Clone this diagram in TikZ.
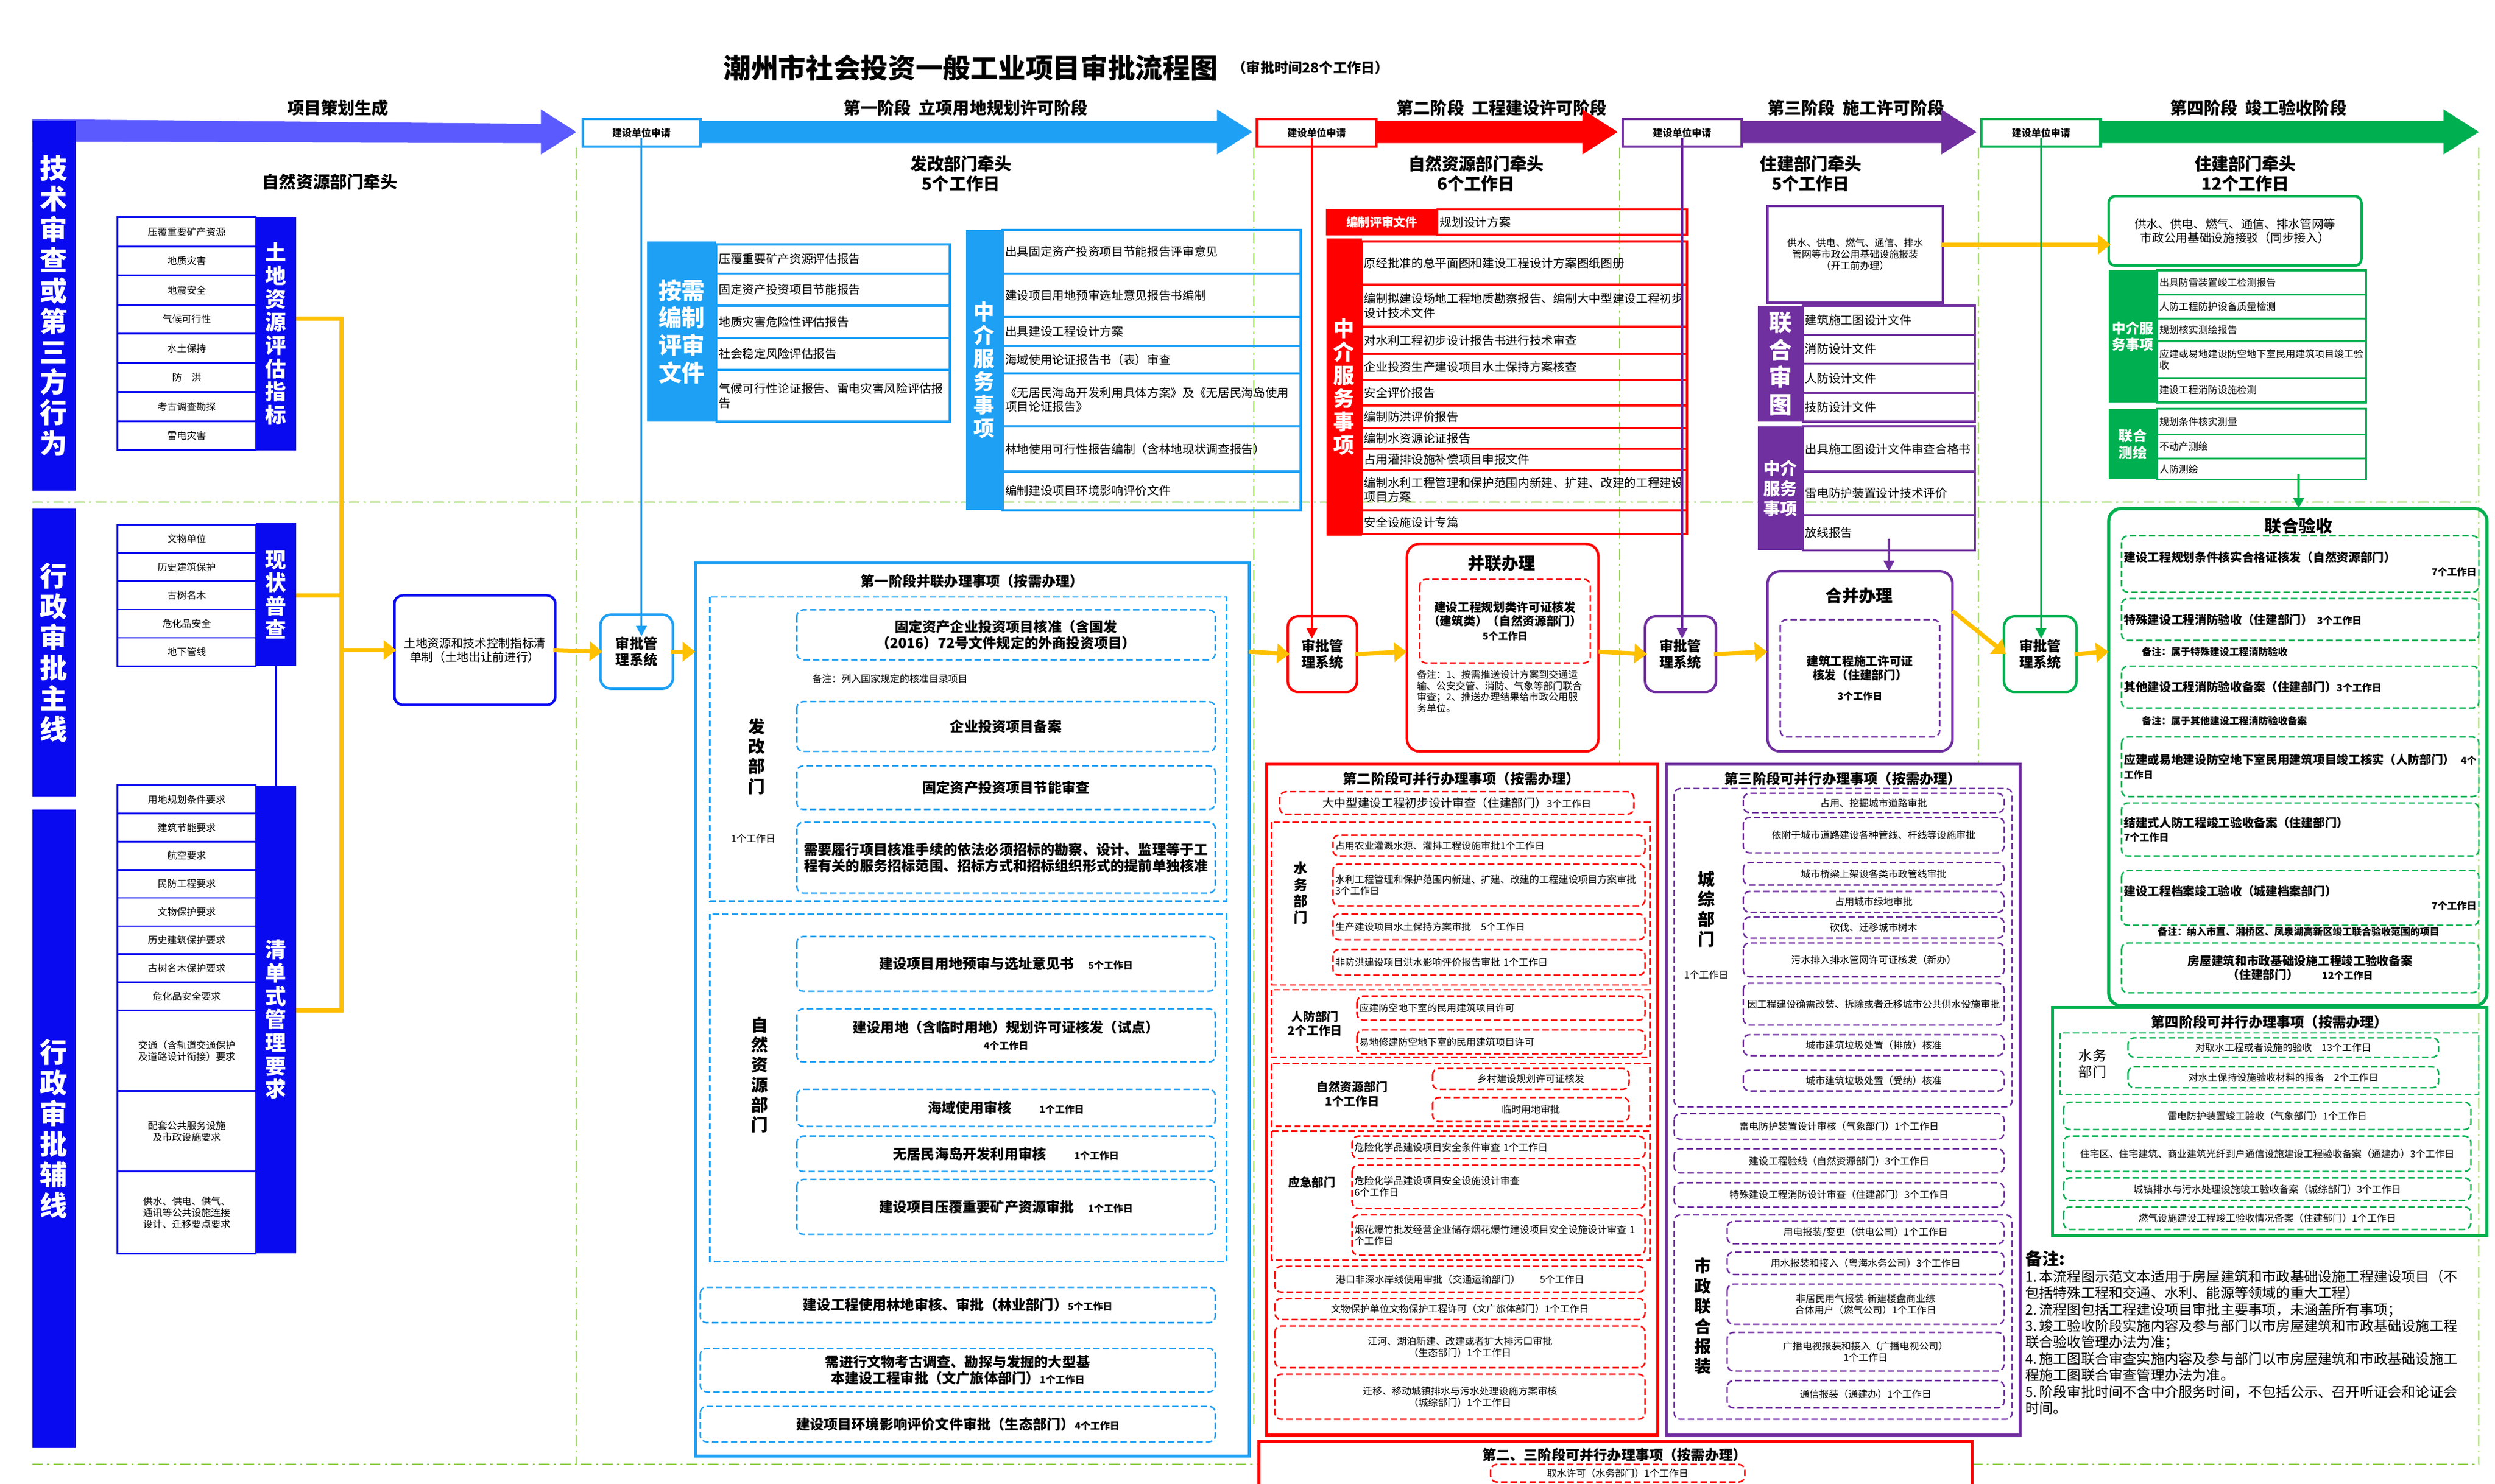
\documentclass[tikz,border=0pt]{standalone}
\usepackage{fontspec}
\setmainfont{Noto Sans CJK SC}
\XeTeXlinebreaklocale "zh"
\XeTeXlinebreakskip=0pt
\usetikzlibrary{arrows.meta}
\definecolor{cb}{HTML}{0A0AF0}
\definecolor{ca}{HTML}{5A5AFF}
\definecolor{cl}{HTML}{1EA0F5}
\definecolor{cr}{HTML}{FF0000}
\definecolor{cp}{HTML}{7030A0}
\definecolor{cg}{HTML}{00B050}
\definecolor{co}{HTML}{FFC000}
\definecolor{cd}{HTML}{92D050}
\newcommand\fa{\fontsize{4.6}{5.4}\selectfont}
\newcommand\fb{\fontsize{5.6}{6.6}\selectfont}
\newcommand\fc{\fontsize{6.6}{7.8}\selectfont}
\newcommand\fd{\fontsize{8}{9.5}\selectfont}
\newcommand\fe{\fontsize{10}{11}\selectfont\bfseries}
\newcommand\ff{\fontsize{13}{14.5}\selectfont\bfseries}
\def\bx#1#2#3#4#5#6#7#8{\pgfmathsetmacro\bw{abs(#6-#4)*0.0268-0.08}\draw[#1] ({#4},{#5}) rectangle ({#6},{#7});\node[#2,text width=\bw cm] (#3) at ({(#4+#6)/2},{(#5+#7)/2}) {#8};}
\def\harrow#1#2#3#4{\fill[#1] ({#2},{#4-7}) -- ({#3-22},{#4-7}) -- ({#3-22},{#4-14}) -- ({#3},{#4}) -- ({#3-22},{#4+14}) -- ({#3-22},{#4+7}) -- ({#2},{#4+7}) -- cycle;}
\tikzset{
  txt/.style={align=center,inner sep=0pt,font=\fb},
  ltxt/.style={align=left,inner sep=0pt,font=\fb},
  vt/.style={align=center,inner sep=0pt,text=white,font=\fe},
  vk/.style={align=center,inner sep=0pt,font=\fd\bfseries},
  dsh/.style={dash pattern=on 3pt off 1.5pt,line width=0.7pt},
  gdl/.style={draw=cd,dash pattern=on 5pt off 2pt on 1pt off 2pt,line width=0.5pt},
  oarr/.style={draw=co,line width=2pt,-{Triangle[length=6pt,width=9pt]}},
  varr/.style={line width=1pt,-{Triangle[length=5pt,width=5pt]}},
}
\begin{document}
\begin{tikzpicture}[x=0.0268cm,y=-0.0268cm]
		%%%%% START %%%%%
		\useasboundingbox (0,0) rectangle (1550,922);
		
		\node[font=\fontsize{13}{14}\selectfont\bfseries] (ttl) at (603,42) {潮州市社会投资一般工业项目审批流程图};
		\node[font=\fc\bfseries,anchor=west] (ttl2) at (ttl.east) {（审批时间28个工作日）};
		
		% stage headings
		\node[font=\fd\bfseries] (h0) at (210,67) {项目策划生成};
		\node[font=\fd\bfseries] (h1) at (600,67) {第一阶段\ \ 立项用地规划许可阶段};
		\node[font=\fd\bfseries] (h2) at (933,67) {第二阶段\ \ 工程建设许可阶段};
		\node[font=\fd\bfseries] (h3) at (1153,67) {第三阶段\ \ 施工许可阶段};
		\node[font=\fd\bfseries] (h4) at (1403,67) {第四阶段\ \ 竣工验收阶段};
		
		% green dash-dot frame lines
		\draw[gdl] (358,92) -- (358,910);
		\draw[gdl] (779,92) -- (779,885);
		\draw[gdl] (1006,92) -- (1006,475);
		\draw[gdl] (1229,92) -- (1229,475);
		\draw[gdl] (1540,92) -- (1540,910);
		\draw[gdl] (20,312) -- (1540,312);
		\draw[gdl] (20,910) -- (782,910);
		\draw[gdl] (1225,910) -- (1540,910);
		
		% stage arrows
		\fill[ca] (20,74) -- (336,77) -- (336,68) -- (358,82) -- (336,96) -- (336,89) -- (20,88) -- cycle;
		\harrow{cl}{435}{778}{82}
		\harrow{cr}{855}{1005}{82}
		\harrow{cp}{1082}{1228}{82}
		\harrow{cg}{1305}{1540}{82}
		\bx{draw=cl,line width=1.2pt,fill=white}{txt,font=\fa\bfseries}{ap1}{362}{74}{435}{91}{建设单位申请}
		\bx{draw=cr,line width=1.2pt,fill=white}{txt,font=\fa\bfseries}{ap2}{781}{74}{855}{91}{建设单位申请}
		\bx{draw=cp,line width=1.2pt,fill=white}{txt,font=\fa\bfseries}{ap3}{1008}{74}{1082}{91}{建设单位申请}
		\bx{draw=cg,line width=1.2pt,fill=white}{txt,font=\fa\bfseries}{ap4}{1231}{74}{1305}{91}{建设单位申请}
		
		% left bands
		\bx{fill=cb,draw=none}{vt,font=\ff}{bd1}{20}{75}{47}{305}{技术审查或第三方行为}
		\bx{fill=cb,draw=none}{vt,font=\ff}{bd2}{20}{316}{47}{495}{行政审批主线}
		\bx{fill=cb,draw=none}{vt,font=\ff}{bd3}{20}{503}{47}{900}{行政审批辅线}
		\node[font=\fd\bfseries] (lead0) at (205,113) {自然资源部门牵头};
		
		\foreach \t [count=\i] in {压覆重要矿产资源,地质灾害,地震安全,气候可行性,水土保持,防\quad 洪,考古调查勘探,雷电灾害}
		  {\bx{draw=cb,line width=0.8pt}{txt,font=\fa}{ga\i}{73}{135+18.1*(\i-1)}{159}{135+18.1*\i}{\t}}
		\bx{fill=cb,draw=none}{vt}{gab}{159}{135}{184}{280}{土地资源评估指标}
		\foreach \t [count=\i] in {文物单位,历史建筑保护,古树名木,危化品安全,地下管线}
		  {\bx{draw=cb,line width=0.8pt}{txt,font=\fa}{gb\i}{73}{326+17.6*(\i-1)}{159}{326+17.6*\i}{\t}}
		\bx{fill=cb,draw=none}{vt}{gbb}{159}{325}{184}{414}{现状普查}
		\foreach \t [count=\i] in {用地规划条件要求,建筑节能要求,航空要求,民防工程要求,文物保护要求,历史建筑保护要求,古树名木保护要求,危化品安全要求}
		  {\bx{draw=cb,line width=0.8pt}{txt,font=\fa}{gc\i}{73}{488+17.5*(\i-1)}{159}{488+17.5*\i}{\t}}
		\bx{draw=cb,line width=0.8pt}{txt,font=\fa}{gc9}{73}{628}{159}{678}{交通（含轨道交通保护及道路设计衔接）要求}
		\bx{draw=cb,line width=0.8pt}{txt,font=\fa}{gc10}{73}{678}{159}{728}{配套公共服务设施及市政设施要求}
		\bx{draw=cb,line width=0.8pt}{txt,font=\fa}{gc11}{73}{728}{159}{779}{供水、供电、供气、通讯等公共设施连接设计、迁移要点要求}
		\bx{fill=cb,draw=none}{vt}{gcb}{159}{488}{184}{779}{清单式管理要求}
		\draw[cb,varr] (gbb.south) -- (gcb.north);
		
		% orange collector
		\coordinate (oj1) at (212,198);
		\coordinate (oj2) at (212,370);
		\coordinate (oj3) at (212,628);
		\draw[co,line width=2pt] (184,198) -- (oj1) -- (oj3) -- (184,628);
		\draw[co,line width=2pt] (184,370) -- (oj2);
		\bx{draw=cb,line width=1.2pt,rounded corners=4pt}{txt,font=\fb}{tdzb}{245}{370}{345}{438}{土地资源和技术控制指标清单制（土地出让前进行）}
		\draw[oarr] (212,404) -- (tdzb.west);
		\bx{draw=cl,line width=1.2pt,rounded corners=5pt}{txt,font=\fc\bfseries}{sys1}{373}{382}{418}{428}{审批管理系统}
		\draw[oarr] (tdzb.east) -- (sys1.west);
		\draw[cl,varr] (ap1.south) -- (ap1.south |- sys1.north);
		
		% stage 1 top
		\node[font=\fd\bfseries,align=center] (lead1) at (597,108) {发改部门牵头\\5个工作日};
		\bx{fill=cl,draw=none}{vt,font=\fontsize{11}{13}\selectfont\bfseries}{zb1}{402}{150}{445}{262}{按需编制评审文件}
		\foreach \t/\a/\b [count=\i] in {压覆重要矿产资源评估报告/152/170,固定资产投资项目节能报告/170/190,地质灾害危险性评估报告/190/210,社会稳定风险评估报告/210/230,{气候可行性论证报告、雷电灾害风险评估报告}/230/262}
		  {\bx{draw=cl,line width=1pt}{ltxt}{zr\i}{445}{\a}{590}{\b}{\t}}
		\bx{fill=cl,draw=none}{vt}{zj1}{600}{143}{623}{317}{中介服务事项}
		\foreach \t/\a/\b [count=\i] in {出具固定资产投资项目节能报告评审意见/143/170,建设项目用地预审选址意见报告书编制/170/197,出具建设工程设计方案/197/215,海域使用论证报告书（表）审查/215/232,{《无居民海岛开发利用具体方案》及《无居民海岛使用项目论证报告》}/232/265,林地使用可行性报告编制（含林地现状调查报告）/265/293,编制建设项目环境影响评价文件/293/317}
		  {\bx{draw=cl,line width=1pt}{ltxt}{zs\i}{623}{\a}{808}{\b}{\t}}
		
		% stage 1 parallel panel
		\draw[cl,line width=1.5pt] (432,350) rectangle (776,905);
		\node[font=\fc\bfseries] (p1t) at (604,361) {第一阶段并联办理事项（按需办理）};
		\draw[oarr] (sys1.east) -- (432,405);
		\draw[cl,dsh] (441,371) rectangle (762,560);
		\node[vk,text width=9pt] (fg1) at (470,470) {发改部门};
		\node[font=\fa] (fg1d) at (468,521) {1个工作日};
		\bx{draw=cl,dsh,rounded corners=3pt}{txt,font=\fc\bfseries}{q1}{495}{379}{755}{410}{固定资产企业投资项目核准（含国发（2016）72号文件规定的外商投资项目）}
		\node[font=\fa,anchor=west] (q1n) at (500,422) {备注：列入国家规定的核准目录项目};
		\bx{draw=cl,dsh,rounded corners=3pt}{txt,font=\fc\bfseries}{q2}{495}{436}{755}{467}{企业投资项目备案}
		\bx{draw=cl,dsh,rounded corners=3pt}{txt,font=\fc\bfseries}{q3}{495}{476}{755}{503}{固定资产投资项目节能审查}
		\bx{draw=cl,dsh,rounded corners=3pt}{txt,font=\fc\bfseries}{q4}{495}{511}{755}{555}{需要履行项目核准手续的依法必须招标的勘察、设计、监理等于工程有关的服务招标范围、招标方式和招标组织形式的提前单独核准}
		\draw[cl,dsh] (441,568) rectangle (762,784);
		\node[vk,text width=9pt] (zr2) at (472,668) {自然资源部门};
		\bx{draw=cl,dsh,rounded corners=3pt}{txt,font=\fc\bfseries}{q5}{495}{582}{755}{616}{建设项目用地预审与选址意见书\quad{\fa 5个工作日}}
		\bx{draw=cl,dsh,rounded corners=3pt}{txt,font=\fc\bfseries}{q6}{495}{627}{755}{660}{建设用地（含临时用地）规划许可证核发（试点）\\{\fa 4个工作日}}
		\bx{draw=cl,dsh,rounded corners=3pt}{txt,font=\fc\bfseries}{q7}{495}{677}{755}{700}{海域使用审核\qquad{\fa 1个工作日}}
		\bx{draw=cl,dsh,rounded corners=3pt}{txt,font=\fc\bfseries}{q8}{495}{706}{755}{728}{无居民海岛开发利用审核\qquad{\fa 1个工作日}}
		\bx{draw=cl,dsh,rounded corners=3pt}{txt,font=\fc\bfseries}{q9}{495}{733}{755}{767}{建设项目压覆重要矿产资源审批\quad{\fa 1个工作日}}
		\bx{draw=cl,dsh,rounded corners=3pt}{txt,font=\fc\bfseries}{q10}{435}{800}{755}{822}{建设工程使用林地审核、审批（林业部门）{\fa 5个工作日}}
		\bx{draw=cl,dsh,rounded corners=3pt}{txt,font=\fc\bfseries}{q11}{435}{838}{755}{865}{需进行文物考古调查、勘探与发掘的大型基本建设工程审批（文广旅体部门）{\fa 1个工作日}}
		\bx{draw=cl,dsh,rounded corners=3pt}{txt,font=\fc\bfseries}{q12}{435}{874}{755}{896}{建设项目环境影响评价文件审批（生态部门）{\fa 4个工作日}}
		
		% stage 2 top
		\node[font=\fd\bfseries,align=center] (lead2) at (917,108) {自然资源部门牵头\\6个工作日};
		\bx{fill=cr,draw=cr}{vt,font=\fb\bfseries}{bz2}{824}{130}{893}{146}{编制评审文件}
		\bx{draw=cr,line width=1pt}{ltxt}{bz2a}{893}{130}{1048}{146}{规划设计方案}
		\bx{fill=cr,draw=none}{vt}{zj2}{824}{148}{846}{333}{中介服务事项}
		\foreach \t/\a/\b [count=\i] in {原经批准的总平面图和建设工程设计方案图纸图册/150/177,{编制拟建设场地工程地质勘察报告、编制大中型建设工程初步设计技术文件}/177/203,对水利工程初步设计报告书进行技术审查/203/220,企业投资生产建设项目水土保持方案核查/220/236,安全评价报告/236/252,编制防洪评价报告/252/266,编制水资源论证报告/266/279,占用灌排设施补偿项目申报文件/279/292,{编制水利工程管理和保护范围内新建、扩建、改建的工程建设项目方案}/292/317,安全设施设计专篇/317/332}
		  {\bx{draw=cr,line width=1pt}{ltxt}{zt\i}{846}{\a}{1048}{\b}{\t}}
		\bx{draw=cr,line width=1.2pt,rounded corners=5pt}{txt,font=\fc\bfseries}{sys2}{800}{383}{843}{430}{审批管理系统}
		\draw[cr,varr] (ap2.south) ++(-3,0) coordinate (ap2d) -- (ap2d |- sys2.north);
		\draw[oarr] (776,405) -- (sys2.west);
		\draw[cr,line width=1.2pt,rounded corners=6pt] (874,338) rectangle (993,467);
		\node[font=\fd\bfseries] (bl) at (933,350) {并联办理};
		\bx{draw=cr,dsh,rounded corners=3pt}{txt,font=\fb\bfseries}{bl1}{882}{360}{988}{412}{建设工程规划类许可证核发（建筑类）（自然资源部门）\\{\fa 5个工作日}}
		\node[font=\fa,text width=2.8cm,align=left,anchor=north west,inner sep=0pt] (bln) at (880,416) {备注：1、按需推送设计方案到交通运输、公安交管、消防、气象等部门联合审查；2、推送办理结果给市政公用服务单位。};
		\draw[oarr] (sys2.east) -- (874,405);
		
		% stage 3 top
		\node[font=\fd\bfseries,align=center] (lead3) at (1125,108) {住建部门牵头\\5个工作日};
		\bx{draw=cp,line width=1.2pt}{txt,font=\fa}{bz3}{1098}{128}{1207}{188}{供水、供电、燃气、通信、排水管网等市政公用基础设施报装\\（开工前办理）}
		\bx{fill=cp,draw=none}{vt,font=\fontsize{11}{13}\selectfont\bfseries}{lh3}{1092}{190}{1120}{262}{联合审图}
		\foreach \t [count=\i] in {建筑施工图设计文件,消防设计文件,人防设计文件,技防设计文件}
		  {\bx{draw=cp,line width=1pt}{ltxt}{lt\i}{1120}{190+18*(\i-1)}{1227}{190+18*\i}{\t}}
		\bx{fill=cp,draw=none}{vt,font=\fd\bfseries}{zj3}{1092}{265}{1120}{342}{中介服务事项}
		\bx{draw=cp,line width=1pt}{ltxt}{zu1}{1120}{265}{1227}{293}{出具施工图设计文件审查合格书}
		\bx{draw=cp,line width=1pt}{ltxt}{zu2}{1120}{293}{1227}{320}{雷电防护装置设计技术评价}
		\bx{draw=cp,line width=1pt}{ltxt}{zu3}{1120}{320}{1227}{342}{放线报告}
		\bx{draw=cp,line width=1.2pt,rounded corners=5pt}{txt,font=\fc\bfseries}{sys3}{1022}{383}{1066}{430}{审批管理系统}
		\draw[cp,varr] (ap3.south) -- (ap3.south |- sys3.north);
		\draw[oarr] (993,405) -- (sys3.west);
		\draw[cp,line width=1.2pt,rounded corners=6pt] (1098,355) rectangle (1213,467);
		\node[font=\fd\bfseries] (hb) at (1155,370) {合并办理};
		\bx{draw=cp,dsh,rounded corners=3pt}{txt,font=\fb\bfseries}{hb1}{1106}{385}{1205}{458}{建筑工程施工许可证核发（住建部门）\\[3pt]{\fa 3个工作日}}
		\draw[cp,varr] (zu3.south) -- (zu3.south |- 1155,355);
		\draw[oarr] (sys3.east) -- (1098,405);
		
		% stage 4 top
		\node[font=\fd\bfseries,align=center] (lead4) at (1395,108) {住建部门牵头\\12个工作日};
		\bx{draw=cg,line width=1.2pt,rounded corners=3pt}{txt,font=\fb}{jb4}{1310}{122}{1467}{165}{供水、供电、燃气、通信、排水管网等市政公用基础设施接驳（同步接入）}
		\draw[oarr] (bz3.east |- 1207,152) -- (jb4.west |- 1310,152);
		\bx{fill=cg,draw=none}{vt,font=\fc\bfseries}{zj4}{1310}{168}{1340}{250}{中介服务事项}
		\foreach \t/\a/\b [count=\i] in {出具防雷装置竣工检测报告/168/183,人防工程防护设备质量检测/183/198,规划核实测绘报告/198/212,应建或易地建设防空地下室民用建筑项目竣工验收/212/235,建设工程消防设施检测/235/250}
		  {\bx{draw=cg,line width=1pt}{ltxt,font=\fa}{zv\i}{1340}{\a}{1470}{\b}{\t}}
		\bx{fill=cg,draw=none}{vt,font=\fc\bfseries}{lc4}{1310}{254}{1340}{298}{联合测绘}
		\foreach \t/\a/\b [count=\i] in {规划条件核实测量/254/270,不动产测绘/270/285,人防测绘/285/298}
		  {\bx{draw=cg,line width=1pt}{ltxt,font=\fa}{lw\i}{1340}{\a}{1470}{\b}{\t}}
		\bx{draw=cg,line width=1.2pt,rounded corners=5pt}{txt,font=\fc\bfseries}{sys4}{1245}{383}{1290}{430}{审批管理系统}
		\draw[cg,varr] (ap4.south) -- (ap4.south |- sys4.north);
		\draw[oarr] (hb.south -| 1213,405) -- (sys4.west);
		\draw[cg,line width=1.5pt,rounded corners=6pt] (1310,316) rectangle (1545,625);
		\node[font=\fd\bfseries] (ly) at (1428,327) {联合验收};
		\draw[cg,varr] (lw3.south -| 1428,298) -- (1428,316);
		\draw[oarr] (sys4.east) -- (1310,405);
		\bx{draw=cg,dsh,rounded corners=3pt}{ltxt,font=\fb\bfseries}{y1}{1318}{333}{1540}{368}{建设工程规划条件核实合格证核发（自然资源部门）\\\hfill{\fa 7个工作日}\quad}
		\bx{draw=cg,dsh,rounded corners=3pt}{ltxt,font=\fb\bfseries}{y2}{1318}{372}{1540}{398}{特殊建设工程消防验收（住建部门）{\fa\ 3个工作日}}
		\node[font=\fa\bfseries,anchor=west] (y2n) at (1326,405) {备注：属于特殊建设工程消防验收};
		\bx{draw=cg,dsh,rounded corners=3pt}{ltxt,font=\fb\bfseries}{y3}{1318}{414}{1540}{440}{其他建设工程消防验收备案（住建部门）{\fa 3个工作日}}
		\node[font=\fa\bfseries,anchor=west] (y3n) at (1326,448) {备注：属于其他建设工程消防验收备案};
		\bx{draw=cg,dsh,rounded corners=3pt}{ltxt,font=\fb\bfseries}{y4}{1318}{458}{1540}{495}{应建或易地建设防空地下室民用建筑项目竣工核实（人防部门）\hfill{\fa 4个工作日}\quad}
		\bx{draw=cg,dsh,rounded corners=3pt}{ltxt,font=\fb\bfseries}{y5}{1318}{499}{1540}{532}{结建式人防工程竣工验收备案（住建部门）\\\centering{\fa 7个工作日}}
		\bx{draw=cg,dsh,rounded corners=3pt}{ltxt,font=\fb\bfseries}{y6}{1318}{541}{1540}{575}{建设工程档案竣工验收（城建档案部门）\\\hfill{\fa 7个工作日}}
		\node[font=\fa\bfseries] (y6n) at (1428,579) {备注：纳入市直、湘桥区、凤泉湖高新区竣工联合验收范围的项目};
		\bx{draw=cg,dsh,rounded corners=3pt}{txt,font=\fb\bfseries}{y7}{1318}{586}{1540}{617}{房屋建筑和市政基础设施工程竣工验收备案\\（住建部门）\qquad{\fa 12个工作日}}
		
		% stage 2 parallel
		\draw[cr,line width=1.5pt] (787,475) rectangle (1030,892);
		\node[font=\fc\bfseries] (p2t) at (908,484) {第二阶段可并行办理事项（按需办理）};
		\bx{draw=cr,dsh,rounded corners=3pt}{txt}{r1}{795}{492}{1015}{506}{大中型建设工程初步设计审查（住建部门）{\fa 3个工作日}}
		\draw[cr,dsh] (790,511) rectangle (1025,612);
		\node[vk,text width=8pt,font=\fc\bfseries] (sw2) at (808,555) {水务部门};
		\bx{draw=cr,dsh,rounded corners=3pt}{ltxt,font=\fa}{r2}{828}{519}{1022}{532}{占用农业灌溉水源、灌排工程设施审批{\fa 1个工作日}}
		\bx{draw=cr,dsh,rounded corners=3pt}{ltxt,font=\fa}{r3}{828}{537}{1022}{563}{水利工程管理和保护范围内新建、扩建、改建的工程建设项目方案审批\quad 3个工作日}
		\bx{draw=cr,dsh,rounded corners=3pt}{ltxt,font=\fa}{r4}{828}{568}{1022}{584}{生产建设项目水土保持方案审批\quad 5个工作日}
		\bx{draw=cr,dsh,rounded corners=3pt}{ltxt,font=\fa}{r5}{828}{590}{1022}{606}{非防洪建设项目洪水影响评价报告审批\ 1个工作日}
		\draw[cr,dsh] (790,615) rectangle (1025,657);
		\node[font=\fb\bfseries,align=center] (rf2) at (817,636) {人防部门\\2个工作日};
		\bx{draw=cr,dsh,rounded corners=3pt}{ltxt,font=\fa}{r6}{843}{619}{1022}{634}{应建防空地下室的民用建筑项目许可}
		\bx{draw=cr,dsh,rounded corners=3pt}{ltxt,font=\fa}{r7}{843}{640}{1022}{655}{易地修建防空地下室的民用建筑项目许可}
		\draw[cr,dsh] (790,661) rectangle (1025,700);
		\node[font=\fb\bfseries,align=center] (zr3) at (840,680) {自然资源部门\\1个工作日};
		\bx{draw=cr,dsh,rounded corners=3pt}{txt,font=\fa}{r8}{890}{664}{1012}{677}{乡村建设规划许可证核发}
		\bx{draw=cr,dsh,rounded corners=3pt}{txt,font=\fa}{r9}{890}{682}{1012}{697}{临时用地审批}
		\draw[cr,dsh] (790,703) rectangle (1025,783);
		\node[font=\fb\bfseries] (yj2) at (815,735) {应急部门};
		\bx{draw=cr,dsh,rounded corners=3pt}{ltxt,font=\fa}{r10}{840}{706}{1022}{720}{危险化学品建设项目安全条件审查\ 1个工作日}
		\bx{draw=cr,dsh,rounded corners=3pt}{ltxt,font=\fa}{r11}{840}{724}{1022}{751}{危险化学品建设项目安全设施设计审查\\6个工作日}
		\bx{draw=cr,dsh,rounded corners=3pt}{ltxt,font=\fa}{r12}{840}{755}{1022}{780}{烟花爆竹批发经营企业储存烟花爆竹建设项目安全设施设计审查\ 1个工作日}
		\bx{draw=cr,dsh,rounded corners=3pt}{txt,font=\fa}{r13}{792}{787}{1022}{803}{港口非深水岸线使用审批（交通运输部门）\qquad 5个工作日}
		\bx{draw=cr,dsh,rounded corners=3pt}{txt,font=\fa}{r14}{792}{807}{1022}{820}{文物保护单位文物保护工程许可（文广旅体部门）1个工作日}
		\bx{draw=cr,dsh,rounded corners=3pt}{txt,font=\fa}{r15}{792}{824}{1022}{850}{江河、湖泊新建、改建或者扩大排污口审批\\（生态部门）1个工作日}
		\bx{draw=cr,dsh,rounded corners=3pt}{txt,font=\fa}{r16}{792}{854}{1022}{882}{迁移、移动城镇排水与污水处理设施方案审核\\（城综部门）1个工作日}
		
		% stage 3 parallel
		\draw[cp,line width=1.5pt] (1035,475) rectangle (1255,892);
		\node[font=\fc\bfseries] (p3t) at (1145,484) {第三阶段可并行办理事项（按需办理）};
		\draw[cp,dsh,rounded corners=3pt] (1040,490) rectangle (1250,688);
		\node[vk,text width=9pt] (cz3) at (1060,565) {城综部门};
		\node[font=\fa] (cz3d) at (1060,606) {1个工作日};
		\foreach \t/\a/\b [count=\i] in {占用、挖掘城市道路审批/493/505,依附于城市道路建设各种管线、杆线等设施审批/508/530,城市桥梁上架设各类市政管线审批/536/550,占用城市绿地审批/554/567,砍伐、迁移城市树木/570/583,污水排入排水管网许可证核发（新办）/586/607,因工程建设确需改装、拆除或者迁移城市公共供水设施审批/611/637,城市建筑垃圾处置（排放）核准/643/656,城市建筑垃圾处置（受纳）核准/665/678}
		  {\bx{draw=cp,dsh,rounded corners=3pt}{txt,font=\fa}{s\i}{1083}{\a}{1245}{\b}{\t}}
		\bx{draw=cp,dsh,rounded corners=3pt}{txt,font=\fa}{s10}{1040}{692}{1245}{708}{雷电防护装置设计审核（气象部门）1个工作日}
		\bx{draw=cp,dsh,rounded corners=3pt}{txt,font=\fa}{s11}{1040}{714}{1245}{729}{建设工程验线（自然资源部门）3个工作日}
		\bx{draw=cp,dsh,rounded corners=3pt}{txt,font=\fa}{s12}{1040}{735}{1245}{750}{特殊建设工程消防设计审查（住建部门）3个工作日}
		\draw[cp,dsh,rounded corners=3pt] (1040,755) rectangle (1250,882);
		\node[vk,text width=9pt] (sz3) at (1058,818) {市政联合报装};
		\bx{draw=cp,dsh,rounded corners=3pt}{txt,font=\fa}{s13}{1073}{759}{1245}{773}{用电报装/变更（供电公司）1个工作日}
		\bx{draw=cp,dsh,rounded corners=3pt}{txt,font=\fa}{s14}{1073}{778}{1245}{792}{用水报装和接入（粤海水务公司）3个工作日}
		\bx{draw=cp,dsh,rounded corners=3pt}{txt,font=\fa}{s15}{1073}{798}{1245}{823}{非居民用气报装-新建楼盘商业综合体用户（燃气公司）1个工作日}
		\bx{draw=cp,dsh,rounded corners=3pt}{txt,font=\fa}{s16}{1073}{828}{1245}{852}{广播电视报装和接入（广播电视公司）\\1个工作日}
		\bx{draw=cp,dsh,rounded corners=3pt}{txt,font=\fa}{s17}{1073}{858}{1245}{875}{通信报装（通建办）1个工作日}
		
		% stage 2-3 bottom
		\draw[cr,line width=1.5pt] (782,896) rectangle (1225,930);
		\node[font=\fc\bfseries] (p23t) at (1003,904) {第二、三阶段可并行办理事项（按需办理）};
		\bx{draw=cr,dsh,rounded corners=3pt}{txt,font=\fa}{t1}{926}{910}{1084}{921}{取水许可（水务部门）1个工作日}
		
		% stage 4 parallel
		\draw[cg,line width=1.5pt] (1275,626) rectangle (1545,768);
		\node[font=\fc\bfseries] (p4t) at (1410,635) {第四阶段可并行办理事项（按需办理）};
		\draw[cg,dsh] (1280,642) rectangle (1540,680);
		\node[font=\fc,align=center] (sw4) at (1300,661) {水务\\部门};
		\bx{draw=cg,dsh,rounded corners=3pt}{txt,font=\fa}{u1}{1322}{645}{1515}{657}{对取水工程或者设施的验收\quad 13个工作日}
		\bx{draw=cg,dsh,rounded corners=3pt}{txt,font=\fa}{u2}{1322}{663}{1515}{676}{对水土保持设施验收材料的报备\quad 2个工作日}
		\bx{draw=cg,dsh,rounded corners=3pt}{txt,font=\fa}{u3}{1282}{685}{1535}{702}{雷电防护装置竣工验收（气象部门）1个工作日}
		\bx{draw=cg,dsh,rounded corners=3pt}{txt,font=\fa}{u4}{1282}{706}{1535}{728}{住宅区、住宅建筑、商业建筑光纤到户通信设施建设工程验收备案（通建办）3个工作日}
		\bx{draw=cg,dsh,rounded corners=3pt}{txt,font=\fa}{u5}{1282}{732}{1535}{746}{城镇排水与污水处理设施竣工验收备案（城综部门）3个工作日}
		\bx{draw=cg,dsh,rounded corners=3pt}{txt,font=\fa}{u6}{1282}{750}{1535}{764}{燃气设施建设工程竣工验收情况备案（住建部门）1个工作日}
		
		% notes
		\node[font=\fc,text width=7.3cm,align=left,anchor=north west,inner sep=0pt] (note) at (1258,777) {{\fd\bfseries 备注:}\\1.\,本流程图示范文本适用于房屋建筑和市政基础设施工程建设项目（不包括特殊工程和交通、水利、能源等领域的重大工程）\\2.\,流程图包括工程建设项目审批主要事项，未涵盖所有事项；\\3.\,竣工验收阶段实施内容及参与部门以市房屋建筑和市政基础设施工程联合验收管理办法为准；\\4.\,施工图联合审查实施内容及参与部门以市房屋建筑和市政基础设施工程施工图联合审查管理办法为准。\\5.\,阶段审批时间不含中介服务时间，不包括公示、召开听证会和论证会时间。};
		%%%%% END %%%%%
	\end{tikzpicture}
\end{document}
